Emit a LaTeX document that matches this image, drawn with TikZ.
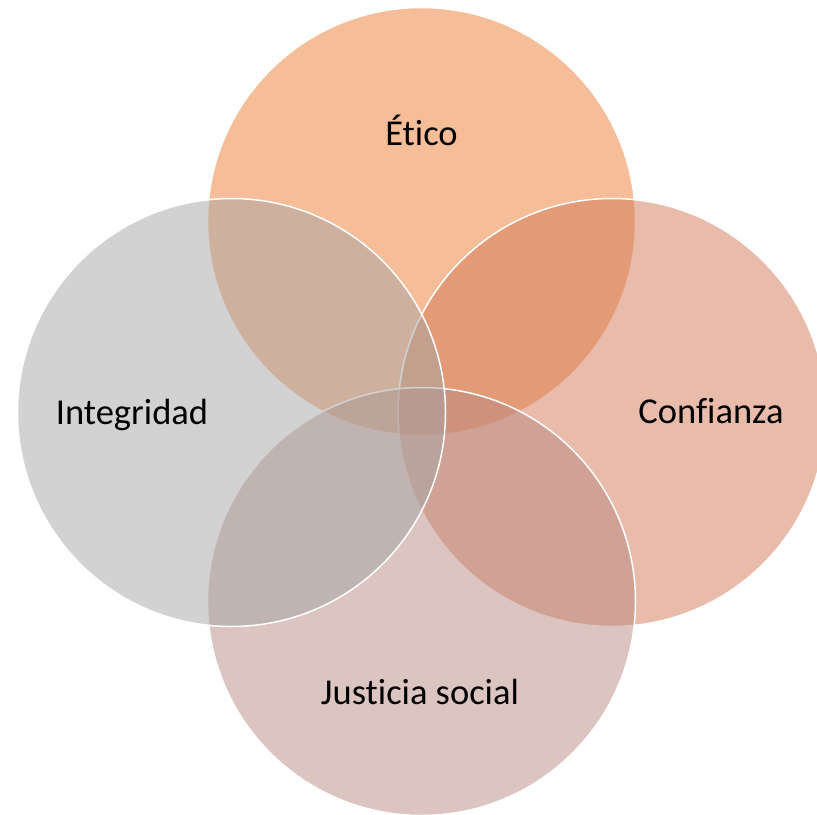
\documentclass[tikz,border=0pt]{standalone}
\usepackage{fontspec}
\setmainfont[RawFeature={-liga}]{Carlito}
\definecolor{cTop}{RGB}{237,125,49}
\definecolor{cRight}{RGB}{209,119,87}
\definecolor{cBottom}{RGB}{185,137,129}
\definecolor{cLeft}{RGB}{165,165,165}
\begin{document}
\begin{tikzpicture}[x=1bp,y=-1bp,
  venn/.style={circle,minimum size=428bp,inner sep=0pt,fill opacity=0.5,draw=white,line width=1.5bp},
  lbl/.style={font=\fontsize{36.5bp}{40bp}\selectfont,text=black,anchor=base,inner sep=0pt}]
\useasboundingbox (0,0) rectangle (817,815);
\clip (0,0) rectangle (817,815);
\node[venn,fill=cTop] (top) at (421.5,221.5) {};
\node[venn,fill=cRight] (right) at (612,412.5) {};
\node[venn,fill=cBottom] (bottom) at (421.5,601.5) {};
\node[venn,fill=cLeft] (left) at (231.5,412.5) {};
\node[lbl] (tTop) at (421.5,145) {Ético};
\node[lbl] (tLeft) at (132,424) {Integridad};
\node[lbl] (tRight) at (711,423) {Confianza};
\node[lbl] (tBottom) at (420,704) {Justicia social};
\end{tikzpicture}
\end{document}
